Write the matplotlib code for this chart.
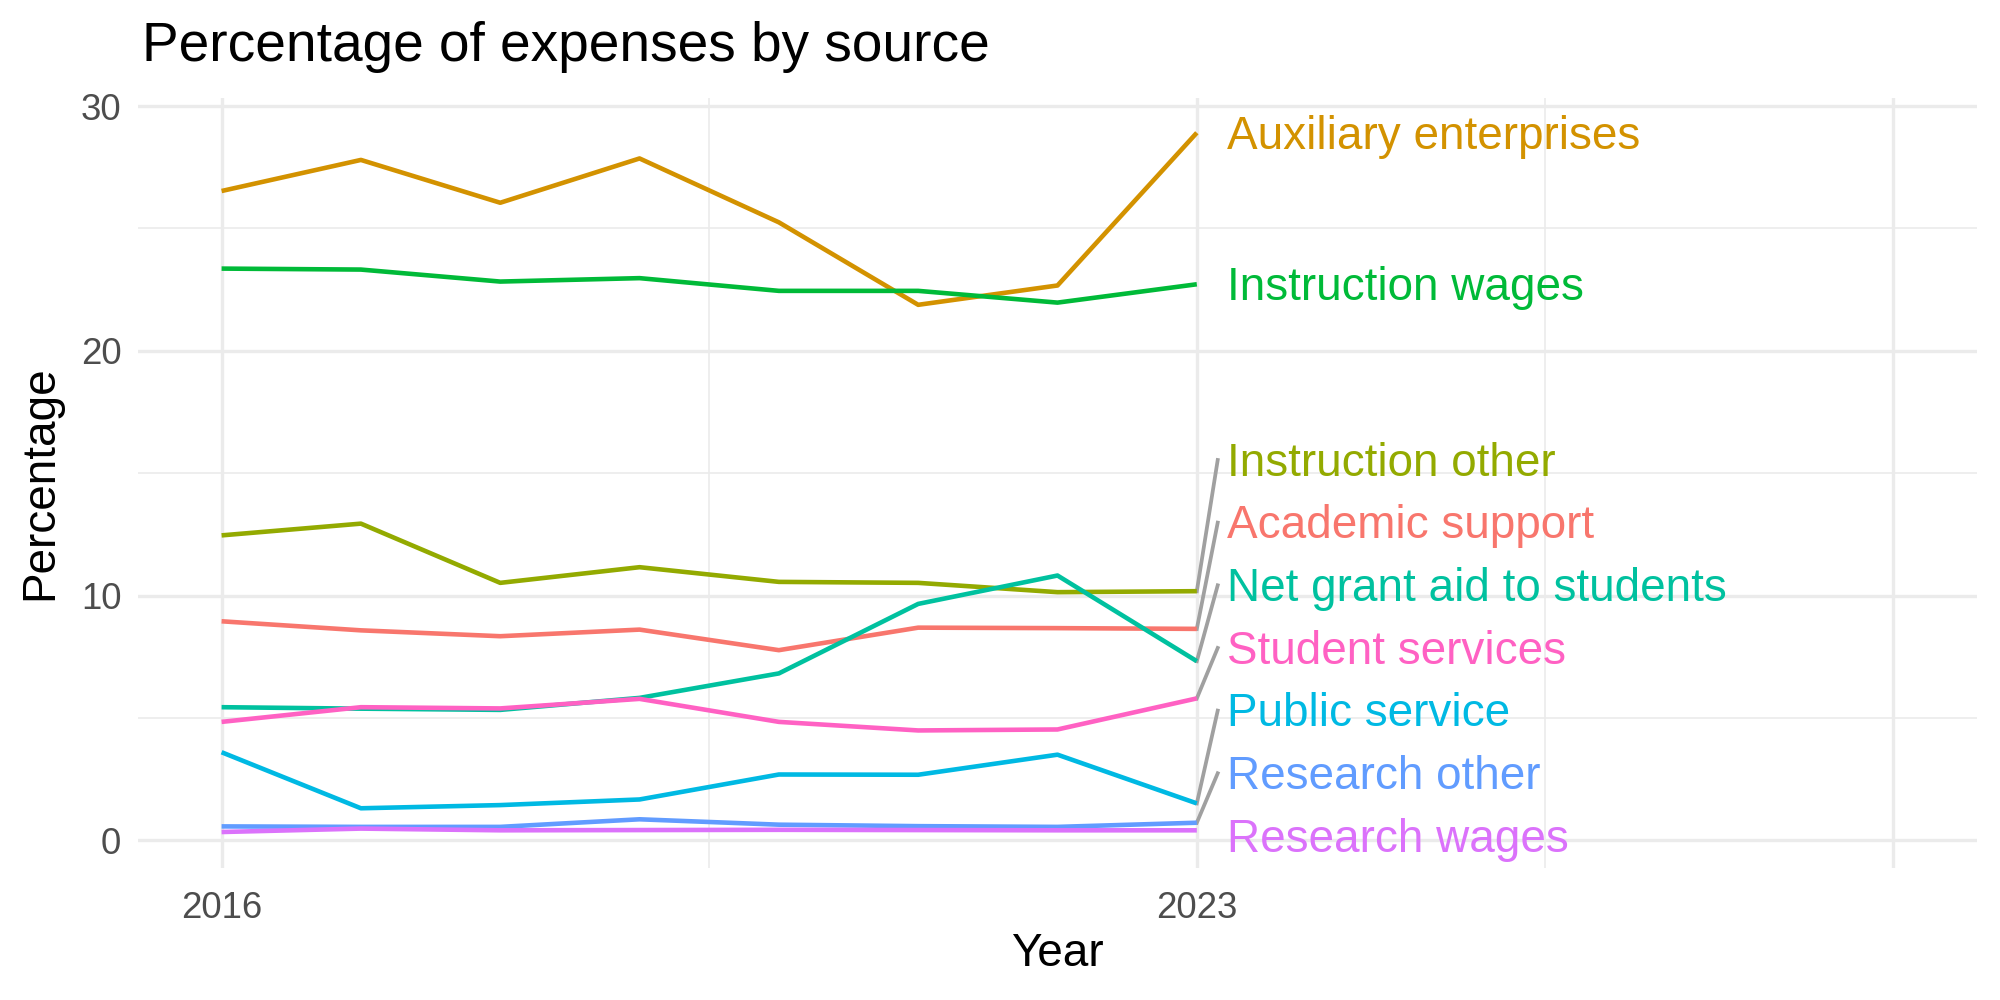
import numpy as np
import matplotlib
matplotlib.use('Agg')
import matplotlib.pyplot as plt
import matplotlib.transforms as mtransforms

plt.rcParams['font.family'] = ['Liberation Sans', 'DejaVu Sans']

years = [2016, 2017, 2018, 2019, 2020, 2021, 2022, 2023]

academic_support = [8.95, 8.58, 8.34, 8.61, 7.77, 8.69, 8.67, 8.64]
auxiliary_enterprises = [26.53, 27.80, 26.05, 27.86, 25.25, 21.88, 22.67, 28.91]
instruction_other = [12.46, 12.94, 10.52, 11.16, 10.56, 10.52, 10.14, 10.18]
instruction_wages = [23.36, 23.32, 22.83, 22.97, 22.45, 22.45, 21.97, 22.72]
net_grant_aid = [5.44, 5.38, 5.33, 5.82, 6.82, 9.66, 10.82, 7.32]
public_service = [3.60, 1.31, 1.44, 1.67, 2.69, 2.68, 3.50, 1.51]
research_other = [0.57, 0.55, 0.55, 0.86, 0.64, 0.58, 0.55, 0.72]
research_wages = [0.34, 0.48, 0.41, 0.42, 0.43, 0.42, 0.41, 0.41]
student_services = [4.84, 5.44, 5.39, 5.78, 4.84, 4.49, 4.53, 5.80]

series = {
    'Academic support': academic_support,
    'Auxiliary enterprises': auxiliary_enterprises,
    'Instruction other': instruction_other,
    'Instruction wages': instruction_wages,
    'Net grant aid to students': net_grant_aid,
    'Public service': public_service,
    'Research other': research_other,
    'Research wages': research_wages,
    'Student services': student_services,
}

# ggplot hue palette, 9 levels
colors = ['#F8766D', '#D39200', '#93AA00', '#00BA38', '#00C19F',
          '#00B9E3', '#619CFF', '#DB72FB', '#FF61C3']


def repel_positions(ends, gap=2.56, floor=0.18):
    '''
    simple stand-in for ggrepel: stack labels upward with a minimum gap
    '''
    order = np.argsort(ends)
    pos = np.zeros(len(ends))
    prev = None
    for i in order:
        if prev is None:
            p = floor
        else:
            p = max(ends[i], prev + gap)
        pos[i] = p
        prev = p
    return pos


def plot_chart():
    fig = plt.figure(figsize=(20 / 3, 10 / 3), dpi=300)
    ax = fig.add_axes([0.069, 0.132, 0.9195, 0.770])

    names = list(series.keys())
    for name, col in zip(names, colors):
        ax.plot(years, series[name], color=col, lw=1.1, solid_capstyle='butt', zorder=3)

    ends = np.array([series[n][-1] for n in names])
    label_y = repel_positions(ends)
    x_end = years[-1]
    text_tr = mtransforms.offset_copy(ax.transData, fig=fig, y=-0.9, units='points')
    for name, col, v, ly in zip(names, colors, ends, label_y):
        if abs(ly - v) > 0.5:
            ax.plot([x_end, x_end + 0.15], [v, ly], color='#A0A0A0', lw=0.9, zorder=2)
        ax.text(x_end + 0.22, ly, name, color=col, fontsize=11,
                ha='left', va='center', zorder=4, transform=text_tr)

    ax.set_xlim(2015.4, 2028.6)
    ax.set_ylim(-1.13, 30.33)
    ax.set_xticks([2016, 2023, 2028])
    ax.set_xticklabels(['2016', '2023', ''])
    ax.set_xticks([2019.5, 2025.5], minor=True)
    ax.set_yticks([0, 10, 20, 30])
    ax.set_yticks([5, 15, 25], minor=True)
    ax.grid(which='major', color='#EBEBEB', lw=0.8, zorder=0)
    ax.grid(which='minor', color='#EBEBEB', lw=0.4, zorder=0)
    ax.tick_params(which='both', length=0, labelsize=8.8, labelcolor='#4D4D4D')
    ax.tick_params(axis='x', pad=5.5)
    ax.tick_params(axis='y', pad=4)
    for s in ax.spines.values():
        s.set_visible(False)

    ax.set_xlabel('Year', fontsize=11, labelpad=1.5)
    ax.set_ylabel('Percentage', fontsize=11, labelpad=4.5)
    fig.text(0.0708, 0.939, 'Percentage of expenses by source', fontsize=13.2,
             ha='left', va='baseline')
    fig.savefig('out.png', dpi=300, facecolor='white')


if __name__ == '__main__':
    plot_chart()
